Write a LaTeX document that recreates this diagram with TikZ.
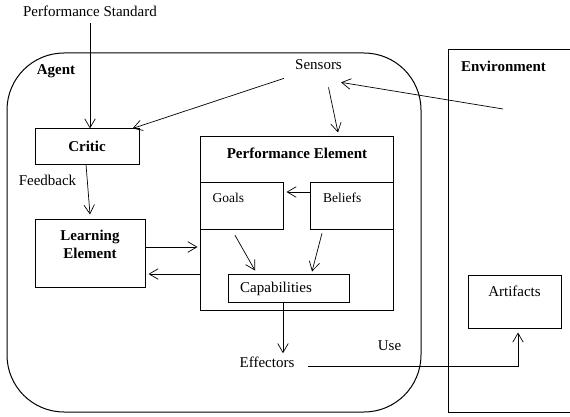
\documentclass[tikz,border=0pt]{standalone}
\usepackage{fontspec}
\setmainfont{Liberation Serif}
\usetikzlibrary{arrows.meta}

\begin{document}
\begin{tikzpicture}[x=1pt, y=-1pt, %%% y points down, so coordinates read like the page
    font=\fontsize{15}{18}\selectfont,
    bold/.style={font=\fontsize{15}{18}\selectfont\bfseries},
    small/.style={font=\fontsize{13.5}{16}\selectfont},
    box/.style={draw, line width=1pt, inner sep=0pt},
    txt/.style={inner sep=1pt},
    flow/.style={-{Straight Barb[length=9pt,width=10.5pt]}, line width=0.7pt}]
  \useasboundingbox (0,0) rectangle (570,417);
  %%% agent and environment outlines
  \draw[line width=1pt, rounded corners=57pt] (7,53) rectangle (421,412);
  \draw[line width=1pt] (570,50) -- (448,50) -- (448,412) -- (570,412);
  %%% free labels
  \node[txt, anchor=base] (ps) at (90,17) {Performance Standard};
  \node[txt, bold, anchor=base] (agent) at (56,75) {Agent};
  \node[txt, anchor=base] (sensors) at (318.5,70) {Sensors};
  \node[txt, bold, anchor=base] (env) at (503.5,72) {Environment};
  \node[txt, anchor=base] (feedback) at (47.5,185) {Feedback};
  \node[txt, anchor=base] (effectors) at (267,367) {Effectors};
  \node[txt, anchor=base] (use) at (389.5,350) {Use};
  \coordinate (envpt) at (503,109);
  %%% agent boxes
  \node[box, bold, minimum width=104, minimum height=35] (critic) at (87,146.5) {Critic};
  \node[box, minimum width=110, minimum height=68] (le) at (90,253) {};
  \node[txt, bold, align=center, anchor=north] (letext) at (90,229) {Learning\\Element};
  \node[box, minimum width=193, minimum height=173] (pe) at (296.5,223.5) {};
  \node[txt, bold, anchor=base] (petext) at (297,158) {Performance Element};
  \foreach \n/\x/\t in {goals/241.5/Goals, beliefs/352/Beliefs}{
    \node[box, minimum width=83, minimum height=47.5] (\n) at (\x,206) {};
    \node[txt, small, anchor=base west] (\n text) at (\x-30,202) {\t};
  }
  \node[box, minimum width=121, minimum height=28] (caps) at (288.5,288) {};
  \node[txt, anchor=base west] (capstext) at (239,292) {Capabilities};
  %%% environment box
  \node[box, minimum width=93, minimum height=53] (art) at (514.5,301.5) {};
  \node[txt, anchor=base] (arttext) at (514.5,296) {Artifacts};
  %%% connectors
  \draw[flow, shorten <=5pt] (ps.south) -- (ps.south |- critic.north);
  \draw[flow] ([xshift=-10pt,yshift=-7pt]sensors.south west) -- ([xshift=-7pt]critic.north east);
  \draw[flow] ([xshift=10pt,yshift=-16pt]sensors.south) -- ([xshift=41.5pt,yshift=4pt]pe.north);
  \draw[flow] (envpt) -- ([xshift=-2pt,yshift=-11pt]sensors.south east);
  \draw[flow] ([xshift=-1pt]critic.south) -- ([yshift=4pt]le.north);
  \draw[flow] ([yshift=6pt]le.east) -- ([yshift=6pt,xshift=-2pt]le.east -| pe.west);
  \draw[flow] ([yshift=-21pt]le.east -| pe.west) -- ([yshift=-21pt,xshift=3pt]le.east);
  \draw[flow] ([yshift=14pt]beliefs.west) -- ([yshift=14pt,xshift=3pt]beliefs.west -| goals.east);
  \draw[flow] ([xshift=-6.5pt,yshift=-5pt]goals.south) -- ([xshift=-33.5pt,yshift=3pt]caps.north);
  \draw[flow] ([xshift=-30pt,yshift=-3pt]beliefs.south) -- ([xshift=23.5pt,yshift=2pt]caps.north);
  \draw[flow, shorten >=2pt] ([xshift=-5.5pt]caps.south) -- ([xshift=-5.5pt]caps.south |- effectors.north);
  \draw[flow] ([xshift=12pt,yshift=-4.5pt]effectors.east) -| ([xshift=3.5pt,yshift=-4pt]art.south);
\end{tikzpicture}
\end{document}
